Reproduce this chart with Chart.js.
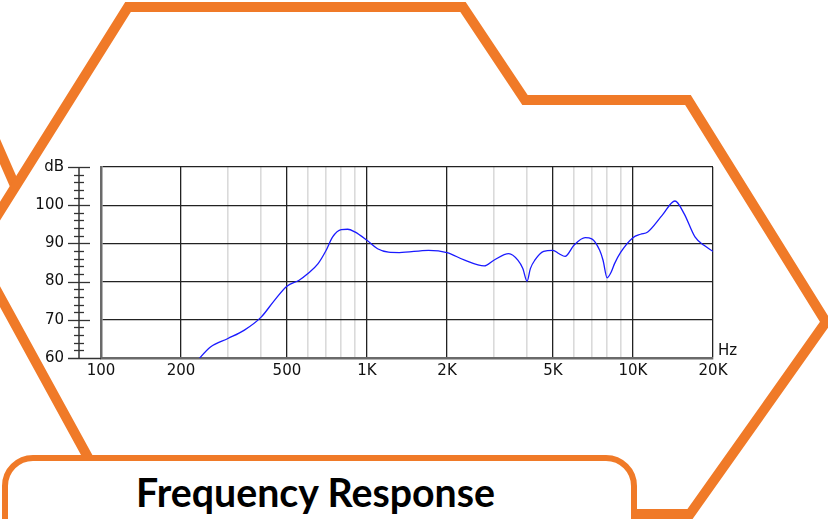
<!DOCTYPE html>
<html>
<head>
<meta charset="utf-8">
<script src="https://cdn.jsdelivr.net/npm/chart.js@4.4.1/dist/chart.umd.min.js"></script>
<style>
  html, body { margin: 0; padding: 0; background: #ffffff; overflow: hidden; }
  #wrap { position: relative; width: 828px; height: 519px; }
  #deco { position: absolute; left: 0; top: 0; }
  #chart { position: absolute; left: 0; top: 0; }
</style>
</head>
<body>
<div id="wrap">
  <svg id="deco" width="828" height="519" xmlns="http://www.w3.org/2000/svg">
    <line x1="-12" y1="124" x2="16" y2="188" stroke="#F07A28" stroke-width="10"/>
    <polygon points="-25,251 128,7 463,7 525,100 688,100 826,322 690,514 119,514"
             fill="none" stroke="#F07A28" stroke-width="10" stroke-linejoin="miter"/>
    <rect x="5" y="458" width="629" height="120" rx="28" ry="28"
          fill="#ffffff" stroke="#F07A28" stroke-width="6"/>
    <text x="136" y="507" font-family="Lato" font-weight="700" font-size="40"
          textLength="359" lengthAdjust="spacingAndGlyphs" fill="#000">Frequency Response</text>
  </svg>
  <canvas id="chart" width="828" height="519"></canvas>
</div>
<script>
// ---- data ----
const freqHz = [220, 235, 258, 300, 346, 400, 449, 500, 554, 600, 655, 700, 743, 800, 846, 900,
  1000, 1096, 1205, 1324, 1703, 2000, 2330, 2760, 3000, 3414, 3692, 3855, 4000, 4115, 4276, 4617,
  5000, 5280, 5558, 6000, 6611, 7000, 7498, 7720, 8000, 8285, 8530, 9000, 10000, 10680, 11365,
  12897, 14385, 15570, 17110, 18500, 20000];
const levelDb = [57.5, 60.0, 62.9, 65.1, 67.3, 70.7, 75.1, 78.8, 80.3, 82.1, 84.7, 88.0, 91.7, 93.6, 93.7, 93.0,
  90.8, 88.6, 87.7, 87.6, 88.2, 87.6, 85.6, 84.1, 85.6, 87.3, 85.6, 83.4, 80.1, 83.4, 85.6, 87.9,
  88.2, 87.3, 86.6, 89.5, 91.5, 91.2, 88.2, 85.6, 81.0, 82.5, 84.7, 87.7, 91.5, 92.4, 93.0,
  97.4, 101.1, 97.8, 91.7, 89.5, 87.9];

const xMajorTicks = [100, 200, 500, 1000, 2000, 5000, 10000, 20000];
const xMajorLabels = ['100', '200', '500', '1K', '2K', '5K', '10K', '20K'];
const xMinorTicks = [300, 400, 600, 700, 800, 900, 3000, 4000, 6000, 7000, 8000, 9000];
const yTicks = [60, 70, 80, 90, 100, 110];
const yLabels = ['60', '70', '80', '90', '100', 'dB'];
const xUnit = 'Hz';

const ORANGE = '#F07A28';
const FONT = "'DejaVu Sans', Verdana, sans-serif";

const ruler = {
  id: 'ruler',
  afterDraw(chart) {
    const ctx = chart.ctx;
    const ys = chart.scales.y;
    const area = chart.chartArea;
    const x0 = area.left - 22;
    ctx.save();
    ctx.strokeStyle = '#333';
    ctx.lineWidth = 1.5;
    ctx.beginPath();
    ctx.moveTo(x0, ys.getPixelForValue(110));
    ctx.lineTo(x0, ys.getPixelForValue(60));
    ctx.stroke();
    ctx.lineWidth = 1.3;
    for (let v = 60; v <= 110; v += 2) {
      const py = Math.round(ys.getPixelForValue(v)) + 0.5;
      const major = v % 10 === 0;
      ctx.beginPath();
      ctx.moveTo(x0 - (major ? 11 : 5), py);
      ctx.lineTo(major && v === 60 ? area.left : x0 + (major ? 11 : 5), py);
      ctx.stroke();
    }
    ctx.fillStyle = '#111';
    ctx.font = '15px ' + FONT;
    ctx.textAlign = 'left';
    ctx.textBaseline = 'bottom';
    ctx.fillText(xUnit, area.right + 5, area.bottom + 1);
    ctx.restore();
  }
};

const allXTicks = xMajorTicks.concat(xMinorTicks).sort((a, b) => a - b);

new Chart(document.getElementById('chart'), {
  type: 'line',
  data: {
    datasets: [{
      data: freqHz.map((f, i) => ({ x: f, y: levelDb[i] })),
      borderColor: '#1a1aff',
      borderWidth: 1.3,
      pointRadius: 0,
      cubicInterpolationMode: 'monotone',
      fill: false
    }]
  },
  options: {
    responsive: false,
    animation: false,
    devicePixelRatio: 1,
    layout: { padding: { left: 0, right: 115, top: 167, bottom: 131 } },
    plugins: { legend: { display: false }, tooltip: { enabled: false } },
    scales: {
      x: {
        type: 'logarithmic',
        min: 100,
        max: 20000,
        afterBuildTicks: s => { s.ticks = allXTicks.map(v => ({ value: v })); },
        afterFit: s => { s.height = 30; },
        ticks: {
          autoSkip: false,
          maxRotation: 0,
          padding: 4,
          color: '#111',
          font: { family: FONT, size: 15 },
          callback: v => { const i = xMajorTicks.indexOf(v); return i >= 0 ? xMajorLabels[i] : ''; }
        },
        grid: {
          drawTicks: false,
          color: c => xMajorTicks.includes(c.tick.value) ? '#222' : '#dadada',
          lineWidth: c => xMajorTicks.includes(c.tick.value) ? 1.3 : 1.6
        },
        border: { color: '#6a6a6a', width: 2.5 }
      },
      y: {
        min: 60,
        max: 110,
        afterBuildTicks: s => { s.ticks = yTicks.map(v => ({ value: v })); },
        afterFit: s => { s.width = 101; },
        ticks: {
          padding: 37,
          color: '#111',
          font: { family: FONT, size: 15 },
          callback: v => { const i = yTicks.indexOf(v); return i >= 0 ? yLabels[i] : ''; }
        },
        grid: { drawTicks: false, color: '#222', lineWidth: 1.3 },
        border: { color: '#6a6a6a', width: 2.5 }
      }
    }
  },
  plugins: [ruler]
});
</script>
</body>
</html>
